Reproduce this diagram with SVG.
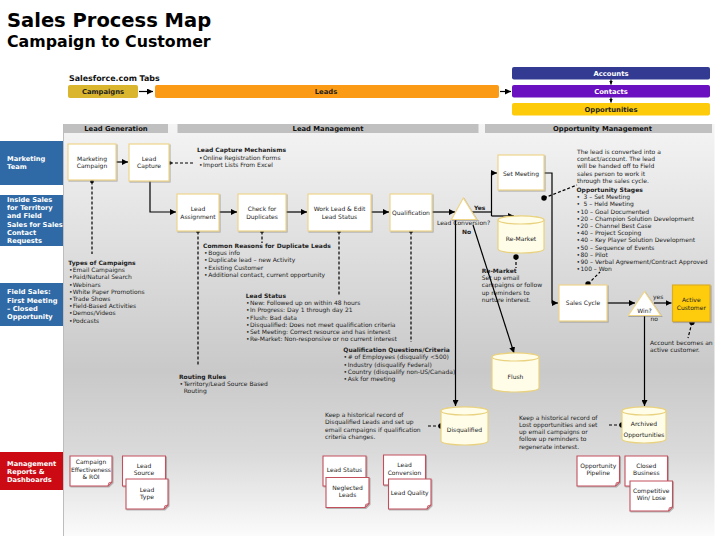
<svg xmlns="http://www.w3.org/2000/svg" width="720" height="540" viewBox="0 0 720 540">
<defs>
<linearGradient id="bg" x1="0" y1="124" x2="0" y2="536" gradientUnits="userSpaceOnUse">
<stop offset="0" stop-color="#f4f4f4"/>
<stop offset="0.25" stop-color="#e2e2e2"/>
<stop offset="0.6" stop-color="#c9c9c9"/>
<stop offset="0.8" stop-color="#dadada"/>
<stop offset="1" stop-color="#fbfbfb"/>
</linearGradient>
<filter id="sh" x="-20%" y="-20%" width="140%" height="140%">
<feDropShadow dx="1" dy="1" stdDeviation="0.7" flood-color="#777" flood-opacity="0.5"/>
</filter>
<marker id="ah" viewBox="0 0 6 6" refX="6" refY="3" markerWidth="6" markerHeight="6" markerUnits="userSpaceOnUse" orient="auto"><path d="M0,0 L6,3 L0,6 z" fill="#000"/></marker>
<marker id="sah" viewBox="0 0 6 6" refX="6" refY="3" markerWidth="4" markerHeight="4" markerUnits="userSpaceOnUse" orient="auto"><path d="M0,0 L6,3 L0,6 z" fill="#000"/></marker>
<marker id="dot" viewBox="0 0 4 4" refX="2" refY="2" markerWidth="3.6" markerHeight="3.6" markerUnits="userSpaceOnUse"><circle cx="2" cy="2" r="2" fill="#000"/></marker>
<marker id="bdot" viewBox="0 0 6 6" refX="3" refY="3" markerWidth="5.4" markerHeight="5.4" markerUnits="userSpaceOnUse"><circle cx="3" cy="3" r="3" fill="#000"/></marker>
</defs>
<style>
text{font-family:"DejaVu Sans",Verdana,sans-serif;}
.t{font-size:6px;fill:#222;}
.c{text-anchor:middle;}
.b{font-weight:bold;}
.lane{font-size:6.7px;font-weight:bold;fill:#fff;}
.tab{font-size:6.8px;font-weight:bold;text-anchor:middle;}
.hdr{font-size:6.8px;font-weight:bold;text-anchor:middle;fill:#111;}
.node{fill:#fff;stroke:#efd58a;stroke-width:1.2;filter:url(#sh);}
.cyl{fill:#fffde8;stroke:#e9d27f;stroke-width:1.2;}
.card{fill:#fff;stroke:#c24f5c;stroke-width:1.1;filter:url(#sh);}
.fold{fill:#e8c0c4;stroke:#c24f5c;stroke-width:0.8;}
.ln{fill:none;stroke:#000;stroke-width:1.2;}
.ds{fill:none;stroke:#000;stroke-width:1.2;stroke-dasharray:3 2;}
</style>

<rect width="720" height="540" fill="#fff"/>

<!-- title -->
<text x="7" y="27" style="font-size:19.5px;font-weight:bold;fill:#000">Sales Process Map</text>
<text x="7" y="46.5" style="font-size:15.8px;font-weight:bold;fill:#000">Campaign to Customer</text>

<!-- Salesforce tabs -->
<g id="tabs">
<text x="69" y="81" style="font-size:7.9px;font-weight:bold;fill:#111">Salesforce.com Tabs</text>
<rect x="68" y="85" width="70" height="13" rx="2" fill="#d9b62e"/>
<text x="103" y="94" class="tab" fill="#222">Campaigns</text>
<rect x="155" y="85" width="344" height="13" rx="2" fill="#fb9a14"/>
<text x="326" y="94" class="tab" fill="#222">Leads</text>
<rect x="512" y="67" width="198" height="12.5" rx="2" fill="#323a92"/>
<text x="611" y="76" class="tab" fill="#fff">Accounts</text>
<rect x="512" y="85" width="198" height="12.5" rx="2" fill="#6a10c0"/>
<text x="611" y="94" class="tab" fill="#fff">Contacts</text>
<rect x="512" y="103" width="198" height="12.5" rx="2" fill="#fecb0a"/>
<text x="611" y="112" class="tab" fill="#222">Opportunities</text>
<path class="ln" d="M139 91.5 H153" marker-end="url(#ah)"/>
<path class="ln" d="M500 91.5 H511" marker-end="url(#ah)"/>
<path class="ln" d="M611 79.5 V84.5" marker-end="url(#sah)"/>
<path class="ln" d="M611 97.5 V102.5" marker-end="url(#sah)"/>
</g>

<!-- lanes -->
<g id="lanes">
<rect x="0" y="141" width="63.5" height="44" fill="#2f6aa6"/>
<text class="lane" x="7" y="160.6">Marketing</text>
<text class="lane" x="7" y="169">Team</text>
<rect x="0" y="195" width="63.5" height="51" fill="#2f6aa6"/>
<text class="lane" x="7" y="201.6">Inside Sales</text>
<text class="lane" x="7" y="210">for Territory</text>
<text class="lane" x="7" y="218.3">and Field</text>
<text class="lane" x="7" y="226.6">Sales for Sales</text>
<text class="lane" x="7" y="235">Contact</text>
<text class="lane" x="7" y="243.3">Requests</text>
<rect x="0" y="283" width="63.5" height="43" fill="#2f6aa6"/>
<text class="lane" x="7" y="294.3">Field Sales:</text>
<text class="lane" x="7" y="302.6">First Meeting</text>
<text class="lane" x="7" y="311">– Closed</text>
<text class="lane" x="7" y="319.3">Opportunity</text>
<rect x="0" y="452" width="63.5" height="38" fill="#cc0a14"/>
<text class="lane" x="7" y="465.6">Management</text>
<text class="lane" x="7" y="474">Reports &amp;</text>
<text class="lane" x="7" y="482.3">Dashboards</text>
</g>

<!-- panel -->
<rect x="63.5" y="124" width="651" height="412" fill="url(#bg)"/>
<line x1="63.5" y1="124" x2="63.5" y2="536" stroke="#bdbdbd" stroke-width="1"/>
<g id="headers">
<rect x="64" y="124" width="104" height="9" fill="#c0c0c0"/>
<text class="hdr" x="116" y="131">Lead Generation</text>
<rect x="177.5" y="124" width="301" height="9" fill="#c0c0c0"/>
<text class="hdr" x="328" y="131">Lead Management</text>
<rect x="485" y="124" width="227" height="9" fill="#c0c0c0"/>
<text class="hdr" x="602.5" y="131">Opportunity Management</text>
</g>

<!-- text blocks -->
<g id="notes" class="t">
<text class="t b" x="197" y="152.2">Lead Capture Mechanisms</text>
<text class="t" x="199" y="159.5">•<tspan x="203">Online Registration Forms</tspan></text>
<text class="t" x="199" y="166.5">•<tspan x="203">Import Lists From Excel</tspan></text>

<text class="t" x="577" y="153.9">The lead is converted into a</text>
<text class="t" x="577" y="161.1">contact/account. The lead</text>
<text class="t" x="577" y="168.3">will be handed off to Field</text>
<text class="t" x="577" y="175.5">sales person to work it</text>
<text class="t" x="577" y="182.7">through the sales cycle.</text>
<text class="t b" x="576.5" y="192.2">Opportunity Stages</text>
<text class="t" x="576.5" y="199.2">•<tspan x="583.5">3 – Set Meeting</tspan></text>
<text class="t" x="576.5" y="206.4">•<tspan x="583.5">5 – Held Meeting</tspan></text>
<text class="t" x="576.5" y="213.6">•<tspan x="580.5">10 – Goal Documented</tspan></text>
<text class="t" x="576.5" y="220.8">•<tspan x="580.5">20 – Champion Solution Development</tspan></text>
<text class="t" x="576.5" y="228">•<tspan x="580.5">20 – Channel Best Case</tspan></text>
<text class="t" x="576.5" y="235.2">•<tspan x="580.5">40 – Project Scoping</tspan></text>
<text class="t" x="576.5" y="242.4">•<tspan x="580.5">40 – Key Player Solution Development</tspan></text>
<text class="t" x="576.5" y="249.6">•<tspan x="580.5">50 – Sequence of Events</tspan></text>
<text class="t" x="576.5" y="256.8">•<tspan x="580.5">80 – Pilot</tspan></text>
<text class="t" x="576.5" y="264">•<tspan x="580.5">90 – Verbal Agreement/Contract Approved</tspan></text>
<text class="t" x="576.5" y="271.2">•<tspan x="580.5">100 – Won</tspan></text>

<text class="t b" x="203" y="248">Common Reasons for Duplicate Leads</text>
<text class="t" x="204" y="255.2">•<tspan x="208.3">Bogus info</tspan></text>
<text class="t" x="204" y="262.4">•<tspan x="208.3">Duplicate lead – new Activity</tspan></text>
<text class="t" x="204" y="269.6">•<tspan x="208.3">Existing Customer</tspan></text>
<text class="t" x="204" y="276.8">•<tspan x="208.3">Additional contact, current opportunity</tspan></text>

<text class="t b" x="68.3" y="264.9">Types of Campaigns</text>
<text class="t" x="69" y="272.1">•<tspan x="72.7">Email Campaigns</tspan></text>
<text class="t" x="69" y="279.3">•<tspan x="72.7">Paid/Natural Search</tspan></text>
<text class="t" x="69" y="286.5">•<tspan x="72.7">Webinars</tspan></text>
<text class="t" x="69" y="293.7">•<tspan x="72.7">White Paper Promotions</tspan></text>
<text class="t" x="69" y="300.9">•<tspan x="72.7">Trade Shows</tspan></text>
<text class="t" x="69" y="308.1">•<tspan x="72.7">Field-Based Activities</tspan></text>
<text class="t" x="69" y="315.3">•<tspan x="72.7">Demos/Videos</tspan></text>
<text class="t" x="69" y="322.5">•<tspan x="72.7">Podcasts</tspan></text>

<text class="t b" x="245.7" y="297.9">Lead Status</text>
<text class="t" x="246" y="305.1">•<tspan x="250">New: Followed up on within 48 hours</tspan></text>
<text class="t" x="246" y="312.3">•<tspan x="250">In Progress: Day 1 through day 21</tspan></text>
<text class="t" x="246" y="319.5">•<tspan x="250">Flush: Bad data</tspan></text>
<text class="t" x="246" y="326.7">•<tspan x="250">Disqualified: Does not meet qualification criteria</tspan></text>
<text class="t" x="246" y="333.9">•<tspan x="250">Set Meeting: Correct resource and has interest</tspan></text>
<text class="t" x="246" y="341.1">•<tspan x="250">Re-Market: Non-responsive or no current interest</tspan></text>

<text class="t b" x="343.3" y="352.2">Qualification Questions/Criteria</text>
<text class="t" x="343.5" y="359.4">•<tspan x="347.7"># of Employees (disqualify &lt;500)</tspan></text>
<text class="t" x="343.5" y="366.6">•<tspan x="347.7">Industry (disqualify Federal)</tspan></text>
<text class="t" x="343.5" y="373.8">•<tspan x="347.7">Country (disqualify non-US/Canada)</tspan></text>
<text class="t" x="343.5" y="381">•<tspan x="347.7">Ask for meeting</tspan></text>

<text class="t b" x="179" y="378.5">Routing Rules</text>
<text class="t" x="179.5" y="385.7">•<tspan x="183.7">Territory/Lead Source Based</tspan></text>
<text class="t" x="183.7" y="392.9">Routing</text>

<text class="t b" x="481.7" y="272.9">Re-Market</text>
<text class="t" x="481.7" y="280.1">Set up email</text>
<text class="t" x="481.7" y="287.3">campaigns or follow</text>
<text class="t" x="481.7" y="294.5">up reminders to</text>
<text class="t" x="481.7" y="301.7">nurture interest.</text>

<text class="t" x="650" y="344.9">Account becomes an</text>
<text class="t" x="650" y="352.2">active customer.</text>

<text class="t" x="325" y="417.2">Keep a historical record of</text>
<text class="t" x="325" y="424.4">Disqualified Leads and set up</text>
<text class="t" x="325" y="431.6">email campaigns if qualification</text>
<text class="t" x="325" y="438.8">criteria changes.</text>

<text class="t" x="519" y="419.5">Keep a historical record of</text>
<text class="t" x="519" y="426.8">Lost opportunities and set</text>
<text class="t" x="519" y="434.1">up email campaigns or</text>
<text class="t" x="519" y="441.4">follow up reminders to</text>
<text class="t" x="519" y="448.7">regenerate interest.</text>
</g>

<!-- connectors -->
<g id="connectors">
<path class="ln" d="M116 162 H128" marker-end="url(#ah)"/>
<path class="ln" d="M150 181 V212 H176" marker-end="url(#ah)"/>
<path class="ln" d="M219 212 H237" marker-end="url(#ah)"/>
<path class="ln" d="M286 212 H307" marker-end="url(#ah)"/>
<path class="ln" d="M371 212 H389" marker-end="url(#ah)"/>
<path class="ln" d="M432 212 H455" marker-end="url(#ah)"/>
<path class="ln" d="M471 212 H491.5"/>
<path class="ln" d="M491.5 216 V173 H497" marker-end="url(#ah)"/>
<path class="ln" d="M491.5 216 H514" marker-end="url(#ah)"/>
<path class="ln" d="M455.5 220 V406" marker-end="url(#ah)"/>
<path class="ln" d="M473 225 L514 353" marker-end="url(#ah)"/>
<path class="ln" d="M544 173 H552 V303 H558" marker-end="url(#ah)"/>
<path class="ln" d="M607 303 H635" marker-end="url(#ah)"/>
<path class="ln" d="M654 303 H671.5" marker-end="url(#ah)"/>
<path class="ln" d="M644.5 316 V406" marker-end="url(#ah)"/>

<path class="ds" d="M170 163 H194" marker-start="url(#dot)"/>
<path class="ds" d="M92 181.5 V254" marker-start="url(#dot)"/>
<path class="ds" d="M198 231.5 V366" marker-start="url(#dot)"/>
<path class="ds" d="M262 231.5 V243" marker-start="url(#dot)"/>
<path class="ds" d="M339 231.5 V295" marker-start="url(#dot)"/>
<path class="ds" d="M411 231.5 V342" marker-start="url(#dot)"/>
<path class="ds" d="M544 198 L577 185" marker-start="url(#bdot)"/>
<path class="ds" d="M516 257 V268" marker-start="url(#bdot)"/>
<path class="ds" d="M588 284 L600 272" marker-start="url(#bdot)"/>
<path class="ds" d="M692 322.5 L688 338" marker-start="url(#bdot)"/>
<path class="ds" d="M441 426 H426" marker-start="url(#bdot)"/>
<path class="ds" d="M622 425 H607" marker-start="url(#bdot)"/>

<text class="t b" x="474" y="210">Yes</text>
<text class="t b" x="462" y="234">No</text>
<text class="t" x="653" y="299">yes</text>
<text class="t" x="650.5" y="321">no</text>
</g>

<!-- nodes -->
<g id="n-marketing-campaign"><rect class="node" x="68" y="144" width="48" height="36"/><text class="t c" x="92" y="160.5">Marketing</text><text class="t c" x="92" y="168">Campaign</text></g>
<g id="n-lead-capture"><rect class="node" x="129" y="144" width="40" height="37"/><text class="t c" x="149" y="160.5">Lead</text><text class="t c" x="149" y="168">Capture</text></g>
<g id="n-lead-assignment"><rect class="node" x="177" y="194" width="42" height="37"/><text class="t c" x="198" y="211.2">Lead</text><text class="t c" x="198" y="218.5">Assignment</text></g>
<g id="n-check-duplicates"><rect class="node" x="238" y="194" width="48" height="37"/><text class="t c" x="262" y="211.2">Check for</text><text class="t c" x="262" y="218.5">Duplicates</text></g>
<g id="n-work-lead"><rect class="node" x="308" y="194" width="63" height="37"/><text class="t c" x="339.5" y="211.2">Work Lead &amp; Edit</text><text class="t c" x="339.5" y="218.5">Lead Status</text></g>
<g id="n-qualification"><rect class="node" x="390" y="194" width="42" height="37"/><text class="t c" x="411" y="215.2">Qualification</text></g>
<g id="n-lead-conversion"><polygon class="node" points="463.3,198 451.5,219.5 476.5,219.5"/><text class="t c" x="463.5" y="225">Lead Conversion?</text></g>
<g id="n-set-meeting"><rect class="node" x="498" y="155" width="46" height="35"/><text class="t c" x="521" y="176">Set Meeting</text></g>
<g id="n-re-market"><path class="cyl" d="M498 220 V249 A23 4 0 0 0 544 249 V220 A23 4 0 0 0 498 220 Z"/><ellipse class="cyl" cx="521" cy="220" rx="23" ry="4"/><text class="t c" x="521" y="240.8">Re-Market</text></g>
<g id="n-flush"><path class="cyl" d="M492 357 V388 A23.5 4 0 0 0 539 388 V357 A23.5 4 0 0 0 492 357 Z"/><ellipse class="cyl" cx="515.5" cy="357" rx="23.5" ry="4"/><text class="t c" x="515.5" y="378.8">Flush</text></g>
<g id="n-sales-cycle"><rect class="node" x="559" y="285" width="48" height="36"/><text class="t c" x="583" y="305">Sales Cycle</text></g>
<g id="n-win"><polygon class="node" points="644.5,291.5 628.3,315.5 660.7,315.5"/><text class="t c" x="644.5" y="312.8">Win?</text></g>
<g id="n-active-customer"><rect x="672.5" y="285" width="37.5" height="36.5" fill="#fecb0a" stroke="#d9ad2a" stroke-width="1.2" filter="url(#sh)"/><text class="t c" x="691.3" y="302">Active</text><text class="t c" x="691.3" y="309.5">Customer</text></g>
<g id="n-disqualified"><path class="cyl" d="M441 411 V441 A23.5 4 0 0 0 488 441 V411 A23.5 4 0 0 0 441 411 Z"/><ellipse class="cyl" cx="464.5" cy="411" rx="23.5" ry="4"/><text class="t c" x="464.5" y="431.5">Disqualified</text></g>
<g id="n-archived"><path class="cyl" d="M622 411 V439 A22 4 0 0 0 666 439 V411 A22 4 0 0 0 622 411 Z"/><ellipse class="cyl" cx="644" cy="411" rx="22" ry="4"/><text class="t c" x="644" y="425.5">Archived</text><text class="t c" x="644" y="436.6">Opportunities</text></g>

<!-- report cards -->
<g id="r-campaign-effectiveness"><path class="card" d="M70 456 H112 V482 L108 486 H70 Z"/><path class="fold" d="M108 486 L108.8 482.8 L112 482 Z"/><text class="t c" x="91" y="464.2">Campaign</text><text class="t c" x="91" y="471.5">Effectiveness</text><text class="t c" x="91" y="478.8">&amp; ROI</text></g>
<g id="r-lead-source"><path class="card" d="M122.5 456 H165.5 V482 L161.5 486 H122.5 Z"/><path class="fold" d="M161.5 486 L162.3 482.8 L165.5 482 Z"/><text class="t c" x="144" y="467.9">Lead</text><text class="t c" x="144" y="475.2">Source</text></g>
<g id="r-lead-type"><path class="card" d="M126 479 H168 V505 L164 509 H126 Z"/><path class="fold" d="M164 509 L164.8 505.8 L168 505 Z"/><text class="t c" x="147" y="491.5">Lead</text><text class="t c" x="147" y="498.8">Type</text></g>
<g id="r-lead-status"><path class="card" d="M323 456 H366 V482 L362 486 H323 Z"/><path class="fold" d="M362 486 L362.8 482.8 L366 482 Z"/><text class="t c" x="344.5" y="471.5">Lead Status</text></g>
<g id="r-neglected-leads"><path class="card" d="M326 477.5 H369 V503.5 L365 507.5 H326 Z"/><path class="fold" d="M365 507.5 L365.8 504.3 L369 503.5 Z"/><text class="t c" x="347.5" y="489.5">Neglected</text><text class="t c" x="347.5" y="496.8">Leads</text></g>
<g id="r-lead-conversion"><path class="card" d="M383.5 455 H425.5 V481 L421.5 485 H383.5 Z"/><path class="fold" d="M421.5 485 L422.3 481.8 L425.5 481 Z"/><text class="t c" x="404.5" y="467.2">Lead</text><text class="t c" x="404.5" y="474.5">Conversion</text></g>
<g id="r-lead-quality"><path class="card" d="M388.5 479 H431 V505 L427 509 H388.5 Z"/><path class="fold" d="M427 509 L427.8 505.8 L431 505 Z"/><text class="t c" x="409.7" y="494.5">Lead Quality</text></g>
<g id="r-opportunity-pipeline"><path class="card" d="M577 456 H619.5 V482 L615.5 486 H577 Z"/><path class="fold" d="M615.5 486 L616.3 482.8 L619.5 482 Z"/><text class="t c" x="598.2" y="467.9">Opportunity</text><text class="t c" x="598.2" y="475.2">Pipeline</text></g>
<g id="r-closed-business"><path class="card" d="M625 456 H667.5 V482 L663.5 486 H625 Z"/><path class="fold" d="M663.5 486 L664.3 482.8 L667.5 482 Z"/><text class="t c" x="646.3" y="467.9">Closed</text><text class="t c" x="646.3" y="475.2">Business</text></g>
<g id="r-competitive"><path class="card" d="M630 481 H672.5 V507 L668.5 511 H630 Z"/><path class="fold" d="M668.5 511 L669.3 507.8 L672.5 507 Z"/><text class="t c" x="651.2" y="492.9">Competitive</text><text class="t c" x="651.2" y="500.2">Win/ Lose</text></g>
</svg>
